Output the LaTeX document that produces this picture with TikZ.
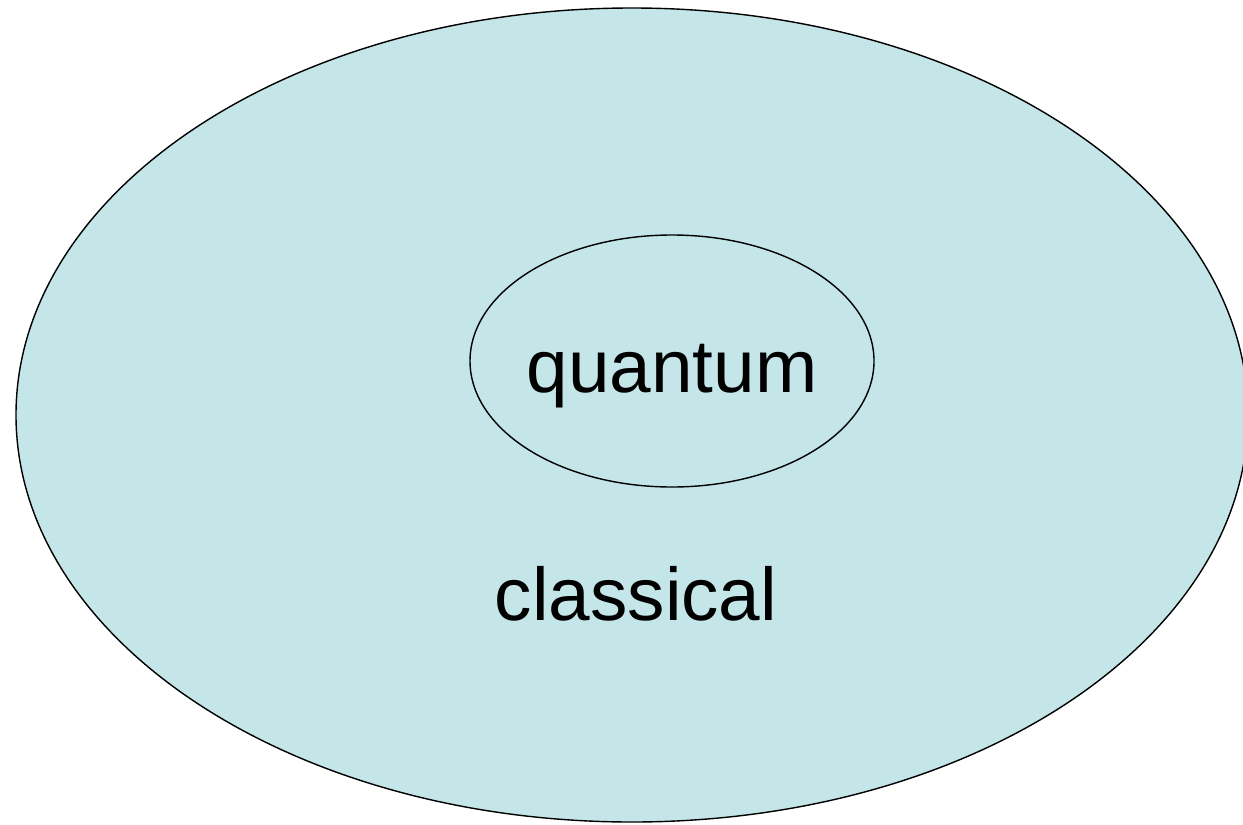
\documentclass[tikz,border=0pt]{standalone}
\usepackage{fontspec}
\setmainfont{Liberation Sans}
\definecolor{setfill}{HTML}{C4E6E9}
\begin{document}
\begin{tikzpicture}[
  region/.style={draw=black, line width=0.8pt, fill=setfill},
  label/.style={font=\fontsize{42.5}{50}\selectfont, anchor=base, inner sep=0pt}
]
\useasboundingbox (0,0) rectangle (24.86,-16.48);
\fill[white] (0,0) rectangle (24.86,-16.48);
% outer set and inner set
\draw[region] (12.64,-8.30) ellipse [x radius=12.32, y radius=8.14];
\draw[region] (13.44,-7.22) ellipse [x radius=4.04, y radius=2.52];
\node[label] (quantum) at (13.44,-7.84) {quantum};
\node[label] (classical) at (12.72,-12.40) {classical};
\end{tikzpicture}
\end{document}
